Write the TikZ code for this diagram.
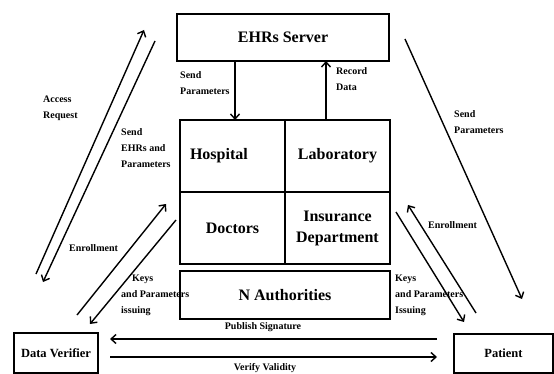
\documentclass[tikz,border=0pt]{standalone}
\usepackage{fontspec}
\setmainfont{Liberation Serif}
\usetikzlibrary{positioning, arrows.meta}

\begin{document}
\begin{tikzpicture}[x=1pt, y=-1pt, >={Straight Barb[length=5pt, width=9pt]},
      box/.style={draw, line width=1.8pt, inner sep=0pt, outer sep=0pt, align=center,
        font=\fontsize{16}{21}\selectfont\bfseries},
      cell/.style={box, minimum width=105pt, minimum height=72pt},
      party/.style={box, font=\fontsize{12.5}{15}\selectfont\bfseries},
      lbl/.style={anchor=west, align=left, inner sep=0pt, font=\fontsize{10}{16}\selectfont\bfseries},
      arr/.style={->, line width=1.4pt}]
    \useasboundingbox (0,0) rectangle (554,374);
    \node[box, minimum width=212pt, minimum height=47pt] (ehrs) at (283,37.5) {EHRs Server};
    \node[cell, text width=85pt, align=left] (hosp) at (232.5,156) {Hospital};
    \node[cell, right=0pt of hosp] (lab) {Laboratory};
    \node[cell, below=0pt of hosp] (doc) {Doctors};
    \node[cell, right=0pt of doc] (ins) {Insurance\\Department};
    \node[box, minimum width=210pt, minimum height=48pt, below=7pt of doc.south east] (auth) {N Authorities};
    \node[party, minimum width=84pt, minimum height=40pt] (dv) at (56,353) {Data Verifier};
    \node[party, minimum width=99pt, minimum height=39pt] (pat) at (503.5,353.5) {Patient};
    \coordinate (sp) at (235,0);
    \coordinate (rd) at (326,0);
    \draw[arr] (sp |- ehrs.south) -- (sp |- hosp.north);
    \draw[arr] (rd |- lab.north) -- (rd |- ehrs.south);
    \node[lbl] (lsp) at (180,83) {Send\\Parameters};
    \node[lbl] (lrd) at (336,79) {Record\\Data};
    \coordinate (acc1) at (36,274);
    \coordinate (acc2) at (144,30);
    \coordinate (ehr1) at (155,41);
    \coordinate (ehr2) at (43,282);
    \draw[arr] (acc1) -- (acc2);
    \draw[arr] (ehr1) -- (ehr2);
    \node[lbl] (lacc) at (43,108) {Access\\Request};
    \node[lbl] (lehr) at (121,148) {Send\\EHRs and\\Parameters};
    \node[lbl] (lenl) at (69,248) {Enrollment};
    \coordinate (kl1) at (77,315);
    \coordinate (kl2) at (166,204);
    \coordinate (kl3) at (176,220);
    \coordinate (kl4) at (90,324);
    \draw[arr] (kl1) -- (kl2);
    \draw[arr] (kl3) -- (kl4);
    \node[lbl] (lkl) at (121,295) {\hspace*{11pt}Keys\\and Parameters\\issuing};
    \coordinate (spr1) at (405,39);
    \coordinate (spr2) at (522,299);
    \draw[arr] (spr1) -- (spr2);
    \node[lbl] (lspr) at (454,122) {Send\\Parameters};
    \coordinate (enr1) at (476,313);
    \coordinate (enr2) at (408,205);
    \coordinate (kr1) at (396,212);
    \coordinate (kr2) at (464,322);
    \draw[arr] (enr1) -- (enr2);
    \draw[arr] (kr1) -- (kr2);
    \node[lbl] (lenr) at (428,225) {Enrollment};
    \node[lbl] (lkr) at (395,295) {Keys\\and Parameters\\Issuing};
    \coordinate (pub1) at (437,339);
    \coordinate (pub2) at (110,339);
    \coordinate (ver1) at (110,357);
    \coordinate (ver2) at (437,357);
    \draw[arr] (pub1) -- (pub2);
    \draw[arr] (ver1) -- (ver2);
    \node[lbl, anchor=center] (lpub) at (263,327) {Publish Signature};
    \node[lbl, anchor=center] (lver) at (265,368) {Verify Validity};
  \end{tikzpicture}
\end{document}
